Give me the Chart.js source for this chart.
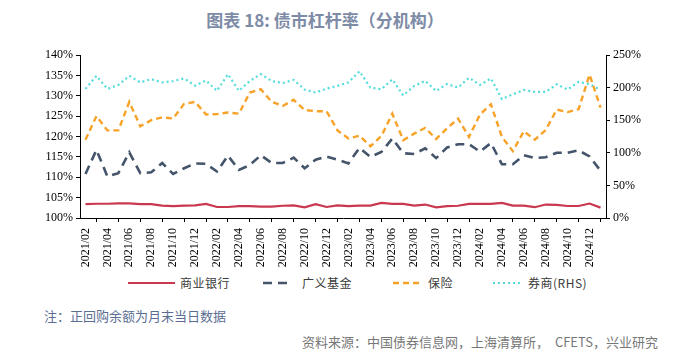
<!DOCTYPE html>
<html>
<head>
<meta charset="utf-8">
<script src="https://cdn.jsdelivr.net/npm/chart.js@4.4.0/dist/chart.umd.min.js"></script>
<style>
  html, body { margin: 0; padding: 0; background: #fff; }
  #wrap { position: relative; width: 695px; height: 361px; overflow: hidden; }
  #c { position: absolute; left: 0; top: 0; }
  .title { position: absolute; left: 0; width: 650px; top: 7px; text-align: center;
           font-family: "Noto Sans CJK SC", sans-serif; font-weight: bold; font-size: 17px; color: #7d8ba6; }
  .note { position: absolute; left: 44px; top: 306px; font-family: "Noto Sans CJK SC", sans-serif;
          font-size: 13px; color: #5b6d92; }
  .src { position: absolute; right: 37px; top: 332px; font-family: "Noto Sans CJK SC", sans-serif;
         font-size: 13px; color: #777; }
  .lg { position: absolute; top: 275px; height: 16px; font-family: "Noto Sans CJK SC", sans-serif;
        font-size: 12px; line-height: 16px; color: #3a3a3a; letter-spacing: 0.5px; white-space: nowrap; }
  .lgl { position: absolute; top: 275px; }
</style>
</head>
<body>
<div id="wrap">
  <div class="title">图表 18: 债市杠杆率（分机构）</div>
  <canvas id="c" width="695" height="272"></canvas>
  <div id="legend"></div>
  <div class="note">注：正回购余额为月末当日数据</div>
  <div class="src">资料来源：中国债券信息网，上海清算所，&nbsp; CFETS，兴业研究</div>
</div>
<script>
const months = ["2021/02","2021/03","2021/04","2021/05","2021/06","2021/07","2021/08","2021/09","2021/10","2021/11","2021/12",
  "2022/01","2022/02","2022/03","2022/04","2022/05","2022/06","2022/07","2022/08","2022/09","2022/10","2022/11","2022/12",
  "2023/01","2023/02","2023/03","2023/04","2023/05","2023/06","2023/07","2023/08","2023/09","2023/10","2023/11","2023/12",
  "2024/01","2024/02","2024/03","2024/04","2024/05","2024/06","2024/07","2024/08","2024/09","2024/10","2024/11","2024/12","2025/01"];

const seriesNames = ["商业银行", "广义基金", "保险", "券商(RHS)"];

const bank = [103.4,103.5,103.5,103.6,103.6,103.4,103.4,103.05,102.9,103.05,103.1,103.45,
  102.7,102.7,102.9,102.9,102.8,102.8,103.0,103.1,102.6,103.4,102.7,103.1,
  102.9,103.05,103.05,103.7,103.45,103.45,103.05,103.3,102.6,102.9,103.0,103.45,
  103.45,103.45,103.7,103.05,103.05,102.65,103.3,103.2,102.95,102.95,103.55,102.55];

const broadFund = [110.8,116.7,110.2,111.0,116.1,111.0,111.2,113.5,110.8,112.2,113.4,113.3,
  111.4,115.3,111.8,113.0,115.4,113.5,113.5,114.8,112.2,114.3,115.1,114.3,
  113.4,117.2,115.0,116.2,119.5,115.9,115.7,117.1,114.7,117.3,118.1,118.1,
  116.3,118.4,113.2,113.2,115.4,114.7,114.9,116.0,116.0,116.6,115.1,111.6];

const insurance = [119.2,125.0,121.5,121.5,128.5,122.5,124.0,124.7,124.4,128.0,128.5,125.4,
  125.5,125.9,125.6,130.8,131.6,128.5,127.5,129.0,126.5,126.2,126.2,121.5,
  119.5,120.2,117.6,120.1,125.6,119.1,120.7,122.1,119.4,122.0,124.4,119.9,
  125.4,127.9,119.9,116.4,121.3,119.2,121.6,126.6,126.0,126.7,135.2,127.1];

const brokers = [198,218,198,204,218,208,213,208,210,214,203,211,
  195,220.5,195,210.3,220.6,210,207,211.8,197,192.3,198.5,202.6,
  208,225,200,197.4,212.5,188,202.5,210.2,194.8,205.5,200,215,
  204,214,182.5,189.7,196.4,193.3,193.3,205.1,197,208.8,205.2,196.5];

const leftTicks = { min: 100, max: 140, step: 5 };
const rightTicks = { min: 0, max: 250, step: 50 };

const tickFont = { family: "'Liberation Serif', 'Times New Roman', serif", size: 12 };

const styles = [
  { color: '#c9384f', width: 2.2, dash: [] },
  { color: '#44546a', width: 2.6, dash: [9, 6] },
  { color: '#f7a228', width: 2.4, dash: [6, 4] },
  { color: '#52dcdc', width: 2.2, dash: [2, 3] }
];

const chart = new Chart(document.getElementById('c'), {
  type: 'line',
  data: {
    labels: months,
    datasets: [
      { label: seriesNames[0], data: bank, yAxisID: 'y' },
      { label: seriesNames[1], data: broadFund, yAxisID: 'y' },
      { label: seriesNames[2], data: insurance, yAxisID: 'y' },
      { label: seriesNames[3], data: brokers, yAxisID: 'y2' }
    ].map((d, i) => Object.assign(d, {
      borderColor: styles[i].color, borderWidth: styles[i].width, borderDash: styles[i].dash,
      pointRadius: 0, tension: 0, fill: false
    }))
  },
  options: {
    responsive: false,
    animation: false,
    layout: { padding: { top: 55, left: 0, right: 0, bottom: 0 } },
    plugins: {
      title: { display: false },
      tooltip: { enabled: false },
      legend: { display: false }
    },
    scales: {
      x: {
        type: 'category',
        offset: true,
        grid: { offset: true, drawOnChartArea: false, drawTicks: true, tickLength: 4, color: '#000' },
        border: { display: true, color: '#000', width: 1 },
        ticks: {
          autoSkip: false, minRotation: 90, maxRotation: 90, padding: 6,
          color: '#000', font: tickFont,
          callback: function (v, i) { return i % 2 === 0 ? this.getLabelForValue(v) : null; }
        },
        afterFit: function (s) { s.height = 54; }
      },
      y: {
        position: 'left',
        min: leftTicks.min, max: leftTicks.max,
        grid: { drawOnChartArea: false, tickLength: 4, color: '#000' },
        border: { display: true, color: '#000', width: 1 },
        ticks: { stepSize: leftTicks.step, color: '#000', font: tickFont, padding: 3,
                 callback: v => v + '%' },
        afterFit: function (s) { s.width = 80; }
      },
      y2: {
        position: 'right',
        min: rightTicks.min, max: rightTicks.max,
        grid: { drawOnChartArea: false, tickLength: 4, color: '#000' },
        border: { display: true, color: '#000', width: 1 },
        ticks: { stepSize: rightTicks.step, color: '#000', font: tickFont, padding: 3,
                 callback: v => v + '%' },
        afterFit: function (s) { s.width = 89; }
      }
    }
  }
});

// HTML legend built from the datasets' own styles
const legendPos = [
  { lineX: 128, lineW: 47, textX: 180 },
  { lineX: 263, lineW: 28, textX: 302 },
  { lineX: 393, lineW: 30, textX: 428 },
  { lineX: 493, lineW: 28, textX: 528 }
];
const lg = document.getElementById('legend');
chart.data.datasets.forEach((ds, i) => {
  const p = legendPos[i];
  const svg = document.createElementNS('http://www.w3.org/2000/svg', 'svg');
  svg.setAttribute('width', p.lineW); svg.setAttribute('height', 16);
  svg.setAttribute('class', 'lgl');
  svg.style.left = p.lineX + 'px';
  const ln = document.createElementNS('http://www.w3.org/2000/svg', 'line');
  ln.setAttribute('x1', 0); ln.setAttribute('x2', p.lineW);
  ln.setAttribute('y1', 8); ln.setAttribute('y2', 8);
  ln.setAttribute('stroke', ds.borderColor);
  ln.setAttribute('stroke-width', ds.borderWidth);
  if (ds.borderDash && ds.borderDash.length) ln.setAttribute('stroke-dasharray', ds.borderDash.join(' '));
  svg.appendChild(ln);
  lg.appendChild(svg);
  const t = document.createElement('div');
  t.className = 'lg'; t.style.left = p.textX + 'px'; t.textContent = ds.label;
  lg.appendChild(t);
});
</script>
</body>
</html>
